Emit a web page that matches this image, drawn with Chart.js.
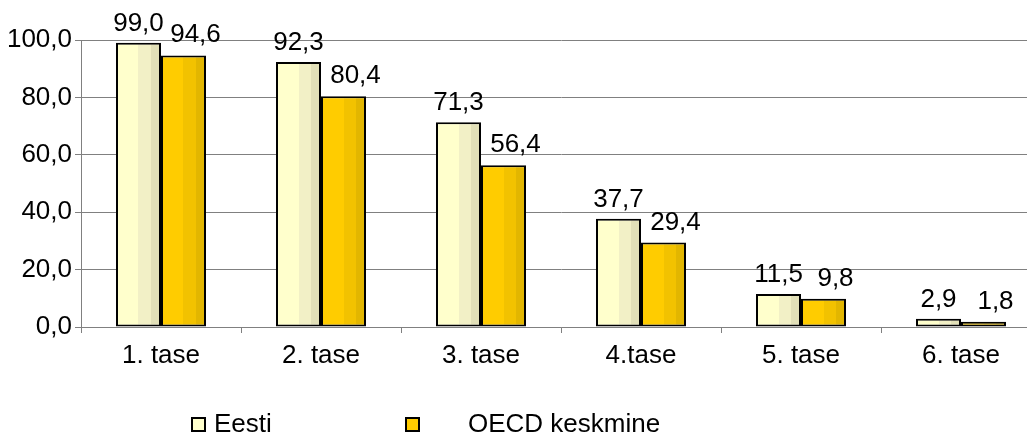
<!DOCTYPE html>
<html>
<head>
<meta charset="utf-8">
<script src="https://cdn.jsdelivr.net/npm/chart.js@4/dist/chart.umd.min.js"></script>
<style>
  html, body { margin: 0; padding: 0; background: #fff; overflow: hidden; }
  #wrap { width: 1045px; height: 437px; }
</style>
</head>
<body>
<div id="wrap"><canvas id="c" width="1045" height="437"></canvas></div>
<script>
const categories = ['1. tase', '2. tase', '3. tase', '4.tase', '5. tase', '6. tase'];
const seriesNames = ['Eesti', 'OECD keskmine'];
const eestiValues = [99.0, 92.3, 71.3, 37.7, 11.5, 2.9];
const oecdValues = [94.6, 80.4, 56.4, 29.4, 9.8, 1.8];
const yTicks = [0, 20, 40, 60, 80, 100];

const FONT = '"Liberation Sans", Arial, sans-serif';
const FS = 26;
const CAT_PCT = 0.5625;
const palettes = [
  ['#FFFFCC', '#F2F0C6', '#E2E0B8'],
  ['#FFCC00', '#F2C200', '#E2B600']
];

function fmt(v) { return v.toFixed(1).replace('.', ','); }

function stripeFill(dsIndex) {
  return function (ctx) {
    const chart = ctx.chart;
    const pal = palettes[dsIndex];
    const xs = chart.scales && chart.scales.x;
    if (!xs || ctx.dataIndex === undefined || !isFinite(xs.width) || xs.width <= 0) return pal[0];
    const center = xs.getPixelForValue(ctx.dataIndex);
    const bw = xs.width / categories.length * CAT_PCT / 2;
    const x0 = dsIndex === 0 ? center - bw : center;
    const g = chart.ctx.createLinearGradient(x0, 0, x0 + bw, 0);
    g.addColorStop(0, pal[0]); g.addColorStop(0.5, pal[0]);
    g.addColorStop(0.5, pal[1]); g.addColorStop(0.78, pal[1]);
    g.addColorStop(0.78, pal[2]); g.addColorStop(1, pal[2]);
    return g;
  };
}

const valueLabels = {
  id: 'valueLabels',
  afterDatasetsDraw(chart) {
    const c = chart.ctx;
    c.save();
    c.font = FS + 'px ' + FONT;
    c.fillStyle = '#000';
    c.textAlign = 'center';
    c.textBaseline = 'alphabetic';
    chart.data.datasets.forEach((ds, di) => {
      const meta = chart.getDatasetMeta(di);
      meta.data.forEach((bar, i) => {
        const shift = di === 1 ? 12 : 0;
        const gap = di === 1 ? 13 : 12;
        c.fillText(fmt(ds.data[i]), bar.x + shift, bar.y - gap);
      });
    });
    c.restore();
  }
};

const customLegend = {
  id: 'customLegend',
  afterDraw(chart, args, opts) {
    const c = chart.ctx;
    c.save();
    c.font = FS + 'px ' + FONT;
    c.textBaseline = 'alphabetic';
    c.textAlign = 'left';
    chart.data.datasets.forEach((ds, di) => {
      const it = opts.items[di];
      c.fillStyle = palettes[di][0];
      c.fillRect(it.box, opts.boxTop, opts.boxSize, opts.boxSize);
      c.lineWidth = 2;
      c.strokeStyle = '#000';
      c.strokeRect(it.box, opts.boxTop, opts.boxSize, opts.boxSize);
      c.fillStyle = '#000';
      c.fillText(ds.label, it.text, opts.baseline);
    });
    c.restore();
  }
};

new Chart(document.getElementById('c'), {
  type: 'bar',
  data: {
    labels: categories,
    datasets: [
      { label: seriesNames[0], data: eestiValues, backgroundColor: stripeFill(0) },
      { label: seriesNames[1], data: oecdValues, backgroundColor: stripeFill(1) }
    ]
  },
  options: {
    responsive: false,
    animation: false,
    devicePixelRatio: 1,
    layout: { padding: { top: 40, left: 0, right: 4, bottom: 0 } },
    datasets: {
      bar: {
        categoryPercentage: CAT_PCT,
        barPercentage: 1,
        borderColor: '#000',
        borderWidth: 2,
        borderSkipped: false
      }
    },
    plugins: {
      legend: { display: false },
      tooltip: { enabled: false },
      customLegend: {
        boxTop: 418, boxSize: 13, baseline: 432,
        items: [{ box: 192, text: 214 }, { box: 406, text: 468 }]
      }
    },
    scales: {
      x: {
        afterFit(scale) { scale.height = 110; },
        grid: { drawOnChartArea: false, drawTicks: true, tickLength: 6, color: '#808080', offset: true },
        border: { color: '#808080', width: 1 },
        ticks: { color: '#000', font: { family: FONT, size: FS }, padding: 7, maxRotation: 0, autoSkip: false }
      },
      y: {
        min: 0, max: 100,
        afterFit(scale) { scale.width = 81; },
        afterBuildTicks(scale) { scale.ticks = yTicks.map(v => ({ value: v })); },
        grid: { color: '#808080', tickLength: 6, lineWidth: 1 },
        border: { color: '#808080', width: 1 },
        ticks: { color: '#000', font: { family: FONT, size: FS }, padding: 3, callback: v => fmt(v) }
      }
    }
  },
  plugins: [valueLabels, customLegend]
});
</script>
</body>
</html>
